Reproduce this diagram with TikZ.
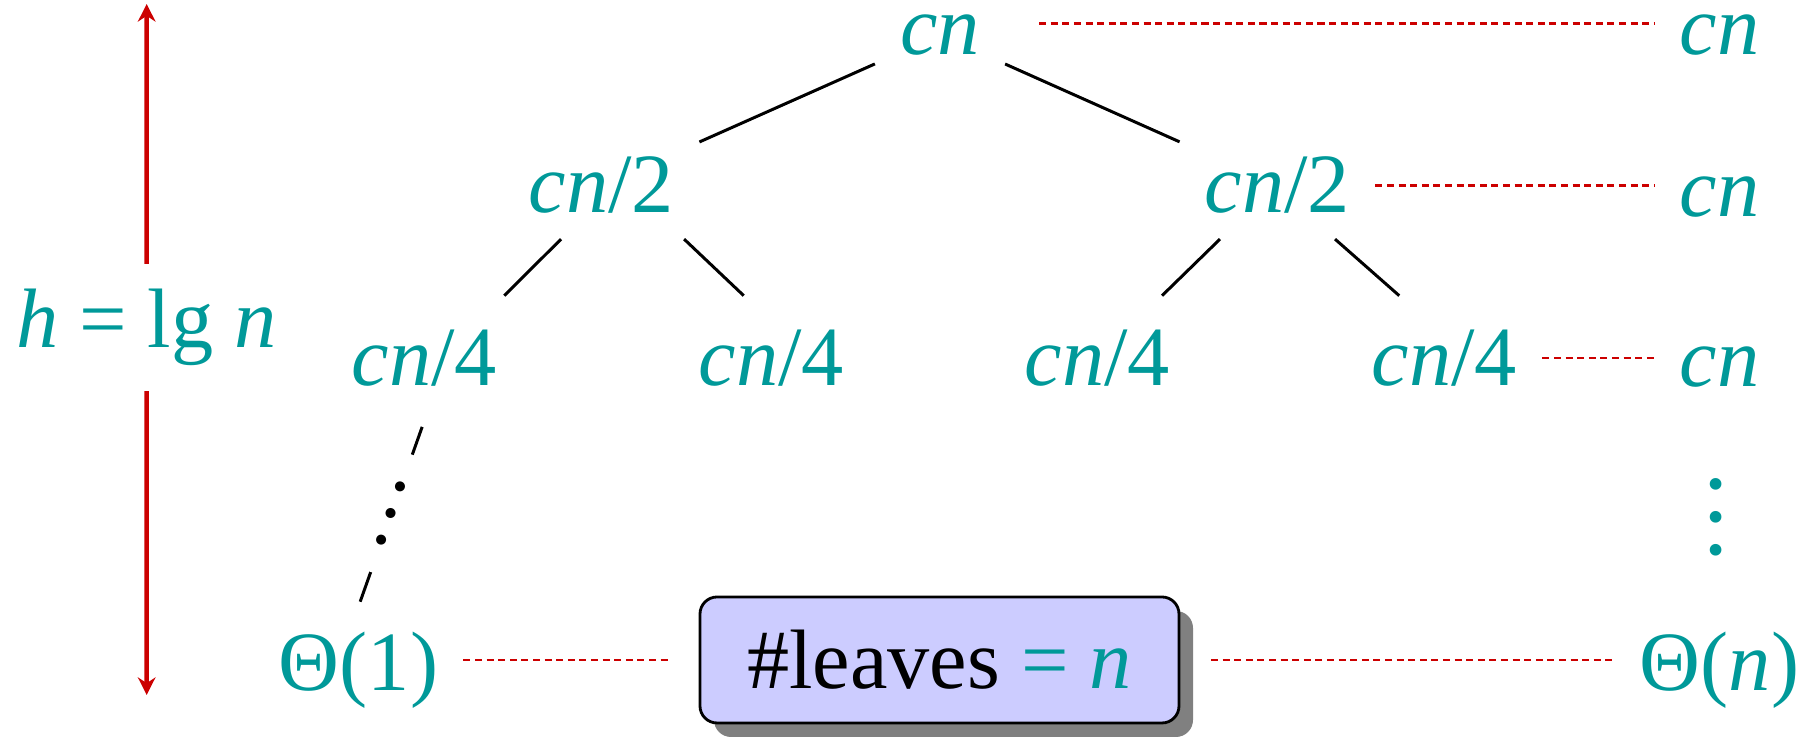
\documentclass[tikz,border=0pt]{standalone}
\usepackage{fontspec}
\setmainfont{Liberation Serif}
\usetikzlibrary{arrows.meta,shadows}
\definecolor{nodeteal}{RGB}{0,153,153}
\definecolor{levelred}{RGB}{204,0,0}
\definecolor{leafblue}{RGB}{204,204,255}

\begin{document}
\begin{tikzpicture}[
    every node/.style={text=nodeteal,inner sep=7pt,font=\fontsize{24}{29}\selectfont},
    lvltwo/.style={inner ysep=9.5pt},
    edge/.style={line width=0.85pt},
    levelline/.style={draw=levelred,line width=0.75pt,dash pattern=on 2pt off 1.3pt},
    heightarrow/.style={draw=levelred,line width=1.3pt,-{Stealth[length=5pt,width=5pt]}},
    leafbox/.style={draw,line width=0.8pt,fill=leafblue,text=black,rounded corners=0.17cm,
      minimum width=4.79cm,minimum height=1.26cm,outer sep=0.32cm,
      drop shadow={shadow xshift=0.14cm,shadow yshift=-0.14cm,fill=black!50,opacity=1}}
  ]
  \useasboundingbox (0,0) rectangle (18.12,7.40);

  % tree
  \node(root) at (9.40,7.05){\textit{cn}};
  \node(c21) at (6.015,5.545){\textit{cn}/2};
  \node(c22) at (12.775,5.545){\textit{cn}/2};
  \node[lvltwo](c41) at (4.245,3.82){\textit{cn}/4};
  \node[lvltwo](c42) at (7.715,3.82){\textit{cn}/4};
  \node[lvltwo](c43) at (10.975,3.82){\textit{cn}/4};
  \node[lvltwo](c44) at (14.445,3.82){\textit{cn}/4};
  \node(th1) at (3.585,0.70){Θ(1)};
  \node[leafbox](leaves) at (9.395,0.80){\#leaves \textcolor{nodeteal}{= \textit{n}}};

  \draw[edge](root)--(c21);
  \draw[edge](root)--(c22);
  \draw[edge](c21.233)--(c41.38);
  \draw[edge](c21.-33)--(c42.114);
  \draw[edge](c22.223)--(c43.44);
  \draw[edge](c22.-43)--(c44.126);
  \draw[edge,shorten <=0.07cm,shorten >=0.05cm](c41.south)
    -- node[sloped,fill=white,text=black,inner xsep=0.2cm,inner ysep=2pt]{\ldots} (th1.north);

  % per-level costs
  \node(rcn0) at (17.195,7.05){\textit{cn}};
  \node(rcn1) at (17.195,5.425){\textit{cn}};
  \node(rcn2) at (17.195,3.725){\textit{cn}};
  \node[rotate=90,font=\fontsize{28}{30}\selectfont](rdots) at (17.16,2.23){\ldots};
  \node(thn) at (17.195,0.70){Θ(\textit{n})};

  \draw[levelline,shorten <=0.34cm](root.10)--(root.10 -| rcn0.west);
  \draw[levelline](c22.east)--(c22.east -| rcn1.west);
  \draw[levelline](c44.east)--(c44.east -| rcn2.west);
  \draw[levelline](leaves.west -| th1.east)--(leaves.west);
  \draw[levelline](leaves.east)--(leaves.east -| thn.west);

  % height
  \node(hlab) at (1.465,4.125){\textit{h} = lg \textit{n}};
  \coordinate(htop) at (1.467,7.36);
  \coordinate(hbot) at (1.467,0.45);
  \draw[heightarrow](hlab)--(htop);
  \draw[heightarrow](hlab)--(hbot);

\end{tikzpicture}
\end{document}
